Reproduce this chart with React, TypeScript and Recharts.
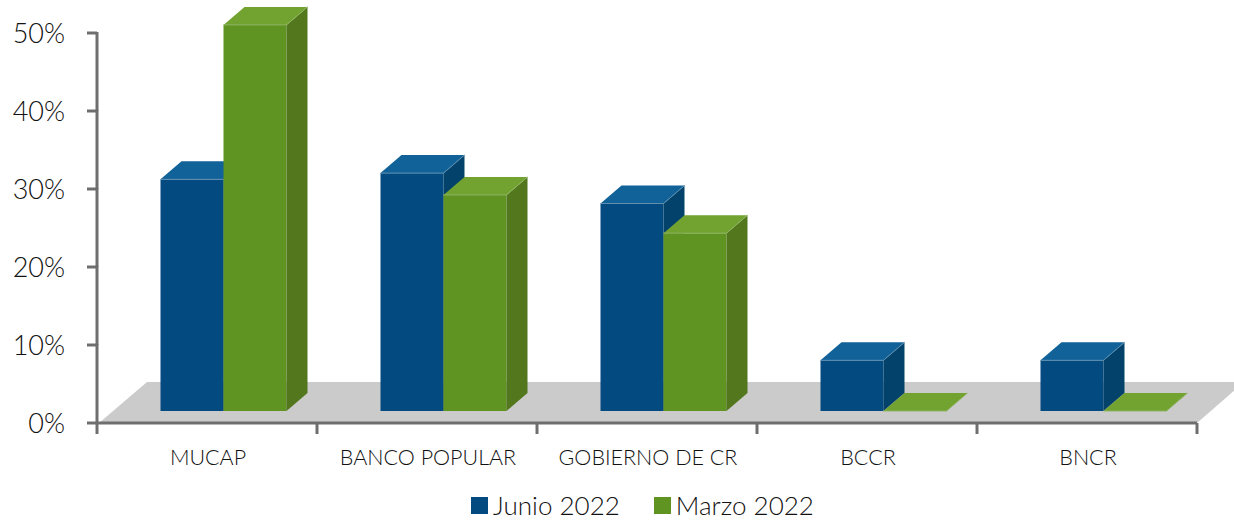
import React from 'react';
import { ComposedChart, Bar, Line, XAxis, YAxis, Legend, usePlotArea } from 'recharts';

const categories = ['MUCAP', 'BANCO POPULAR', 'GOBIERNO DE CR', 'BCCR', 'BNCR'];
const junio = [29.7, 30.5, 26.6, 6.5, 6.5];
const marzo = [49.5, 27.7, 22.8, 0, 0];
const yTicks = [0, 10, 20, 30, 40, 50];

const chartData = categories.map((name, i) => ({ name, junio: junio[i], marzo: marzo[i] }));

const WIDTH = 1234;
const HEIGHT = 521;
const FONT = 'Lato, sans-serif';
const AXIS_COLOR = '#6e6e6e';
const PX_PER_PCT = 7.8;
const FLOOR_OFFSET = 12; // bars stand on the floor, above the axis line
const DEPTH_X = 21;
const DEPTH_Y = 18;
const SHIFT_X = 16.5;

const Floor = () => {
  const plot = usePlotArea();
  if (!plot) return null;
  const left = plot.x;
  const right = plot.x + plot.width;
  const bottom = plot.y + plot.height;
  const points = [
    [left + 2, bottom],
    [left + 50, bottom - 41],
    [right + 47, bottom - 41],
    [right, bottom],
  ];
  return <polygon points={points.map((p) => p.join(',')).join(' ')} fill="#cbcbcb" />;
};

const Box = (props: any) => {
  const { x, y, width, height, front, top, side, edge } = props;
  const l = x + SHIFT_X;
  const r = l + width;
  const b = y + height;
  return (
    <g>
      {height > 0 && <rect x={l} y={y} width={width} height={height} fill={front} />}
      {height > 0 && (
        <polygon
          points={`${r},${y} ${r + DEPTH_X},${y - DEPTH_Y} ${r + DEPTH_X},${b - DEPTH_Y} ${r},${b}`}
          fill={side}
        />
      )}
      <polygon
        points={`${l},${y} ${l + DEPTH_X},${y - DEPTH_Y} ${r + DEPTH_X},${y - DEPTH_Y} ${r},${y}`}
        fill={top}
      />
      <polyline
        points={`${l},${y} ${r},${y} ${r + DEPTH_X},${y - DEPTH_Y}`}
        fill="none"
        stroke={edge}
        strokeWidth={1}
      />
    </g>
  );
};

const YTick = ({ x, y, payload }: any) => (
  <g>
    <text x={x - 32} y={y + 10} textAnchor="end" fontFamily={FONT} fontWeight={300} fontSize={27} fill="#111">
      {payload.value}%
    </text>
    <line x1={x - 10} x2={x} y1={y} y2={y} stroke={AXIS_COLOR} strokeWidth={3} />
    {payload.value < 50 && (
      <line x1={x} x2={x} y1={y} y2={y - 10 * PX_PER_PCT - 1} stroke={AXIS_COLOR} strokeWidth={3} />
    )}
  </g>
);

const XTick = ({ x, y, payload, index }: any) => {
  const half = 110;
  const axisY = y - 8;
  return (
    <g>
      <line x1={x - half} x2={x - half} y1={axisY} y2={axisY + 11} stroke={AXIS_COLOR} strokeWidth={3} />
      {index === categories.length - 1 && (
        <line x1={x + half} x2={x + half} y1={axisY} y2={axisY + 11} stroke={AXIS_COLOR} strokeWidth={3} />
      )}
      <text x={x + 1} y={axisY + 42} textAnchor="middle" fontFamily={FONT} fontWeight={300} fontSize={21.5} fill="#111">
        {payload.value}
      </text>
    </g>
  );
};

const LegendContent = ({ payload }: any) => (
  <div style={{ display: 'flex', justifyContent: 'center', gap: 34, fontFamily: FONT, fontWeight: 300, fontSize: 26, color: '#111' }}>
    {(payload || [])
      .filter((item: any) => item.type !== 'none')
      .map((item: any) => (
        <div key={item.value} style={{ display: 'flex', alignItems: 'center', gap: 5 }}>
          <span style={{ width: 17, height: 17, background: item.color, display: 'inline-block' }} />
          <span>{item.value}</span>
        </div>
      ))}
  </div>
);

export default function App() {
  return (
    <div style={{ width: WIDTH, height: HEIGHT }}>
      <style>{'body { margin: 0; }'}</style>
      <ComposedChart
        width={WIDTH}
        height={HEIGHT}
        data={chartData}
        barGap={0}
        barSize={63}
        margin={{ top: 8, right: 37, left: 0, bottom: 0 }}
      >
        <Floor />
        <XAxis
          dataKey="name"
          axisLine={{ stroke: AXIS_COLOR, strokeWidth: 3 }}
          tickLine={false}
          interval={0}
          height={98}
          tick={<XTick />}
        />
        <YAxis
          width={97}
          domain={[0, 415 / PX_PER_PCT]}
          ticks={yTicks}
          interval={0}
          axisLine={false}
          tickLine={false}
          tickSize={0}
          tickMargin={0}
          tick={<YTick />}
        />
        <YAxis yAxisId="bars" hide domain={[-FLOOR_OFFSET / PX_PER_PCT, (415 - FLOOR_OFFSET) / PX_PER_PCT]} />
        <Legend
          verticalAlign="middle"
          align="center"
          content={<LegendContent />}
          wrapperStyle={{ left: 26, width: WIDTH - 1, top: 489, bottom: 'auto' }}
        />
        {/* the visible axis only draws its ticks when a series is attached to it */}
        <Line dataKey="marzo" stroke="none" dot={false} activeDot={false} legendType="none" isAnimationActive={false} />
        <Bar
          yAxisId="bars"
          dataKey="junio"
          name="Junio 2022"
          fill="#034a80"
          isAnimationActive={false}
          shape={<Box front="#034a80" top="#106299" side="#03426a" edge="#5f8fb0" />}
        />
        <Bar
          yAxisId="bars"
          dataKey="marzo"
          name="Marzo 2022"
          fill="#5f9322"
          isAnimationActive={false}
          shape={<Box front="#5f9322" top="#72a22f" side="#52771c" edge="#8fb565" />}
        />
      </ComposedChart>
    </div>
  );
}
